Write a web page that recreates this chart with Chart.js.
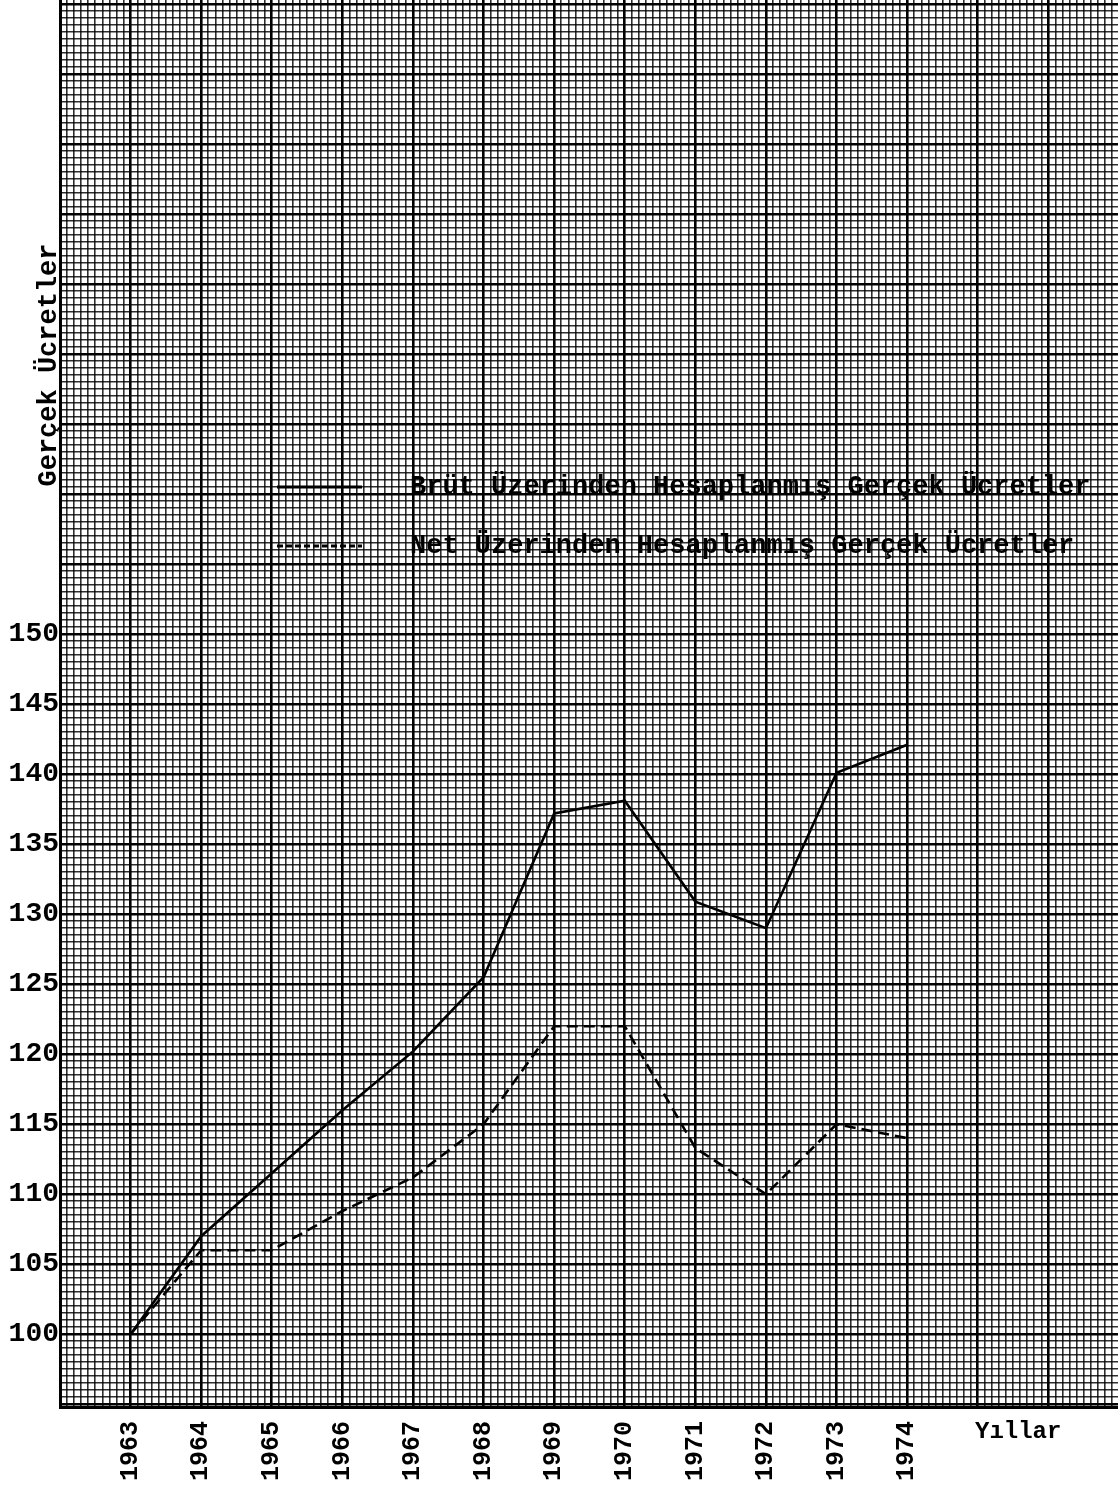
<!DOCTYPE html>
<html lang="tr">
<head>
    <meta charset="UTF-8">
    <title>Gerçek Ücretler</title>
    <script src="https://cdn.jsdelivr.net/npm/chart.js"></script>
    <style>
        body { margin: 0; background: #fff; }
        #chart-container { width: 1118px; height: 1491px; }
    </style>
</head>
<body>
    <div id="chart-container">
        <canvas id="myChart" width="1118" height="1491"></canvas>
    </div>

    <script>
        // Data
        var years = [1963, 1964, 1965, 1966, 1967, 1968, 1969, 1970, 1971, 1972, 1973, 1974];
        var brut = [100, 107, 111.5, 116, 120.2, 125.5, 137.2, 138.1, 130.9, 129, 140.1, 142.1];
        var net = [100, 106, 106, 108.8, 111.2, 115, 122, 122, 113.3, 110, 115, 114];
        var yTickLabels = [100, 105, 110, 115, 120, 125, 130, 135, 140, 145, 150];
        var seriesNames = ['Brüt Üzerinden Hesaplanmış Gerçek Ücretler', 'Net Üzerinden Hesaplanmış Gerçek Ücretler'];
        var yTitle = 'Gerçek Ücretler';
        var xTitle = 'Yıllar';

        var FONT = '"Liberation Mono", "DejaVu Sans Mono", monospace';

        function points(vals) {
            return years.map(function (yr, i) { return { x: yr, y: vals[i] }; });
        }

        // graph paper: minor every 0.1 year / 0.5 unit, heavy every 1 year / 5 units
        function paperTicks(scale, step) {
            var ticks = [];
            var start = Math.ceil(scale.min / step - 1e-9);
            var end = Math.floor(scale.max / step + 1e-9);
            for (var k = start; k <= end; k++) {
                ticks.push({ value: Math.round(k * step * 100) / 100 });
            }
            scale.ticks = ticks;
        }

        function gridStyle(steps) {
            return {
                drawTicks: false,
                color: function (c) {
                    var n = Math.round(c.tick.value * steps);
                    return n % 10 === 0 ? '#000' : 'rgba(0,0,0,0.82)';
                },
                lineWidth: function (c) {
                    var n = Math.round(c.tick.value * steps);
                    return n % 10 === 0 ? 2.6 : 1.6;
                }
            };
        }

        // typed legend, axis titles
        var paperText = {
            id: 'paperText',
            afterDraw: function (chart) {
                var ctx = chart.ctx;
                ctx.save();
                ctx.fillStyle = '#000';
                ctx.font = 'bold 27px ' + FONT;
                ctx.textBaseline = 'middle';
                chart.data.datasets.forEach(function (ds, i) {
                    var y = 487 + i * 59;
                    ctx.strokeStyle = ds.borderColor;
                    ctx.lineWidth = 3;
                    ctx.setLineDash(ds.borderDash ? [6, 3] : []);
                    ctx.beginPath();
                    ctx.moveTo(277, y);
                    ctx.lineTo(362, y);
                    ctx.stroke();
                    ctx.setLineDash([]);
                    ctx.fillText(ds.label, 410, y);
                });

                ctx.font = 'bold 24px ' + FONT;
                ctx.fillText(xTitle, 975, 1432);

                ctx.translate(49, 365);
                ctx.rotate(-Math.PI / 2);
                ctx.textAlign = 'center';
                ctx.font = 'bold 27px ' + FONT;
                ctx.fillText(yTitle, 0, 0);
                ctx.restore();
            }
        };

        var ctx = document.getElementById('myChart').getContext('2d');
        var chart = new Chart(ctx, {
            type: 'line',
            data: {
                datasets: [{
                    label: seriesNames[0],
                    data: points(brut),
                    borderColor: '#000',
                    borderWidth: 2.6,
                    pointRadius: 0,
                    tension: 0,
                    fill: false
                }, {
                    label: seriesNames[1],
                    data: points(net),
                    borderColor: '#000',
                    borderWidth: 2.6,
                    borderDash: [11, 6],
                    pointRadius: 0,
                    tension: 0,
                    fill: false
                }]
            },
            options: {
                responsive: false,
                animation: false,
                layout: { padding: 0 },
                plugins: {
                    legend: { display: false },
                    tooltip: { enabled: false }
                },
                scales: {
                    x: {
                        type: 'linear',
                        min: 1962,
                        max: 1976.986,
                        afterBuildTicks: function (s) { paperTicks(s, 0.1); },
                        afterFit: function (s) { s.height = 84; s.paddingLeft = 0; s.paddingRight = 0; },
                        grid: gridStyle(10),
                        border: { display: true, color: '#000', width: 3 },
                        ticks: {
                            autoSkip: false,
                            maxRotation: 90,
                            minRotation: 90,
                            padding: 14,
                            color: '#000',
                            font: { family: FONT, size: 25, weight: 'bold' },
                            callback: function (v) {
                                var r = Math.round(v);
                                return (Math.abs(v - r) < 1e-6 && years.indexOf(r) >= 0) ? String(r) : '';
                            }
                        }
                    },
                    y: {
                        min: 94.8,
                        max: 195.3,
                        afterBuildTicks: function (s) { paperTicks(s, 0.5); },
                        afterFit: function (s) { s.width = 60; s.paddingTop = 0; s.paddingBottom = 0; },
                        grid: gridStyle(2),
                        border: { display: true, color: '#000', width: 3 },
                        ticks: {
                            autoSkip: false,
                            padding: 1,
                            color: '#000',
                            font: { family: FONT, size: 28, weight: 'bold' },
                            callback: function (v) {
                                var r = Math.round(v);
                                return (Math.abs(v - r) < 1e-6 && yTickLabels.indexOf(r) >= 0) ? String(r) : '';
                            }
                        }
                    }
                }
            },
            plugins: [paperText]
        });
    </script>
</body>
</html>
